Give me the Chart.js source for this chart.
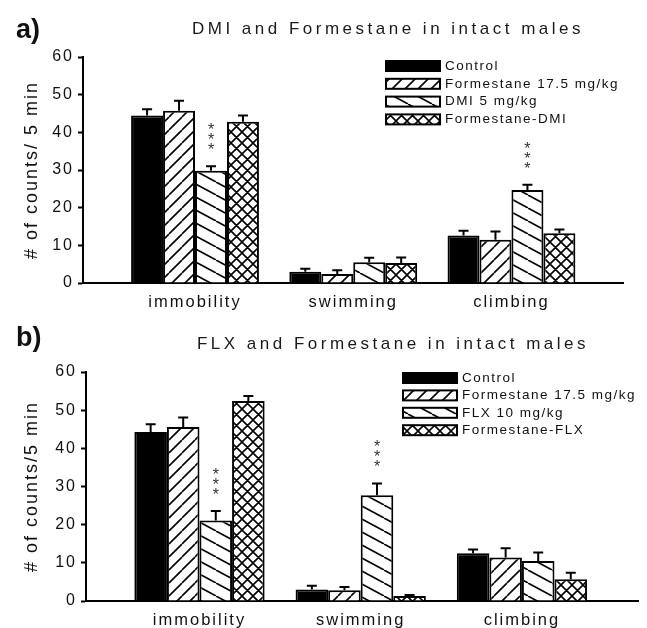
<!DOCTYPE html>
<html>
<head>
<meta charset="utf-8">
<script src="https://cdn.jsdelivr.net/npm/chart.js@4.4.0/dist/chart.umd.min.js"></script>
<style>
  body { margin: 0; background: #fff; width: 647px; height: 628px; overflow: hidden; position: relative; font-family: "Liberation Sans", Arial, sans-serif; }
  canvas { position: absolute; left: 0; }
  #chartA { top: 0; }
  #chartB { top: 310px; }
  .tag { position: absolute; left: 16px; font-weight: bold; font-size: 27px; line-height: 30px; color: #111; }
  .ttl { position: absolute; font-size: 17px; line-height: 20px; letter-spacing: 3.5px; color: #1a1a1a; white-space: nowrap; transform: translateX(-50%); }
</style>
</head>
<body>
<canvas id="chartA" width="647" height="320"></canvas>
<canvas id="chartB" width="647" height="318"></canvas>
<div class="tag" style="top:14px">a)</div>
<div class="ttl" style="left:388px; top:19px">DMI and Formestane in intact males</div>
<div class="tag" style="top:322px">b)</div>
<div class="ttl" style="left:393px; top:334px">FLX and Formestane in intact males</div>

<script>
const categories = ['immobility', 'swimming', 'climbing'];
const yTickValues = [0, 10, 20, 30, 40, 50, 60];

// a) DMI and Formestane
const seriesA = ['Control', 'Formestane 17.5 mg/kg', 'DMI 5 mg/kg', 'Formestane-DMI'];
const controlA = [44.5, 3.0, 12.6];
const controlErrA = [1.6, 0.8, 1.3];
const formestaneA = [45.7, 2.4, 11.5];
const formestaneErrA = [2.7, 1.0, 2.2];
const dmiA = [29.8, 5.5, 24.7];
const dmiErrA = [1.2, 1.2, 1.4];
const formDmiA = [42.8, 5.3, 13.2];
const formDmiErrA = [1.7, 1.5, 1.0];
const dmiStarsA = [true, false, true];

// b) FLX and Formestane
const seriesB = ['Control', 'Formestane 17.5 mg/kg', 'FLX 10 mg/kg', 'Formestane-FLX'];
const controlB = [44.3, 3.0, 12.5];
const controlErrB = [2.0, 1.0, 1.0];
const formestaneB = [45.6, 2.8, 11.4];
const formestaneErrB = [2.5, 0.9, 2.4];
const flxB = [21.1, 27.7, 10.5];
const flxErrB = [2.5, 3.1, 2.2];
const formFlxB = [52.4, 1.3, 5.7];
const formFlxErrB = [1.3, 0.3, 1.7];
const flxStarsB = [true, true, false];

const FONT = '"Liberation Sans", Arial, sans-serif';
Chart.defaults.font.family = FONT;
Chart.defaults.color = '#111';

// hatch fills, made on the chart's own context
const makeHatch = (ctx, w, h, dirs) => {
  const c = document.createElement('canvas');
  c.width = w; c.height = h;
  const g = c.getContext('2d');
  g.fillStyle = '#fff';
  g.fillRect(0, 0, w, h);
  g.strokeStyle = '#000';
  g.lineWidth = 1.6;
  g.beginPath();
  for (const dx of [-w, 0, w]) {
    if (dirs.includes('/')) { g.moveTo(dx, h); g.lineTo(dx + w, 0); }
    if (dirs.includes('\\')) { g.moveTo(dx, 0); g.lineTo(dx + w, h); }
  }
  g.stroke();
  return ctx.createPattern(c, 'repeat');
};

// the original figure uses widely spaced letters
const spacing = {
  id: 'spacing',
  beforeLayout(chart) { chart.ctx.letterSpacing = '2px'; },
  beforeDraw(chart) { chart.ctx.letterSpacing = '2px'; }
};

const errorBars = {
  id: 'errorBars',
  afterDatasetsDraw(chart) {
    const { ctx } = chart;
    const y = chart.scales.y;
    ctx.save();
    ctx.letterSpacing = '0px';
    ctx.strokeStyle = '#000';
    ctx.lineWidth = 2;
    chart.data.datasets.forEach((ds, i) => {
      chart.getDatasetMeta(i).data.forEach((bar, j) => {
        const top = y.getPixelForValue(ds.data[j].y + ds.err[j]);
        ctx.beginPath();
        ctx.moveTo(bar.x, bar.y);
        ctx.lineTo(bar.x, top);
        ctx.moveTo(bar.x - 5, top);
        ctx.lineTo(bar.x + 5, top);
        ctx.stroke();
        if (ds.stars && ds.stars[j]) {
          ctx.fillStyle = '#333';
          ctx.font = '16px ' + FONT;
          ctx.textAlign = 'center';
          ctx.textBaseline = 'alphabetic';
          for (let k = 0; k < 3; k++) ctx.fillText('*', bar.x, top - 20 - k * 10 + 9);
        }
      });
    });
    ctx.restore();
  }
};

const boxLegend = {
  id: 'boxLegend',
  afterDraw(chart, args, opts) {
    const { ctx } = chart;
    ctx.save();
    ctx.letterSpacing = '1.5px';
    ctx.font = '13.5px ' + FONT;
    ctx.textBaseline = 'middle';
    ctx.textAlign = 'left';
    chart.data.datasets.forEach((ds, i) => {
      const x = opts.x;
      const yc = opts.y + i * opts.step;
      ctx.fillStyle = ds.backgroundColor;
      ctx.fillRect(x, yc - 5, 54, 10);
      ctx.strokeStyle = '#000';
      ctx.lineWidth = 2;
      ctx.strokeRect(x, yc - 5, 54, 10);
      ctx.fillStyle = '#111';
      ctx.fillText(ds.label, x + 59, yc);
    });
    ctx.restore();
  }
};

function drawPanel(id, p) {
  const canvas = document.getElementById(id);
  const ctx = canvas.getContext('2d');
  const fills = [
    '#000',
    makeHatch(ctx, 13, 13, '/'),
    makeHatch(ctx, 24, 13, '\\'),
    makeHatch(ctx, 11, 11, '/\\')
  ];
  const datasets = p.series.map((name, i) => ({
    label: name,
    data: p.values[i].map((v, j) => ({ x: j, y: v })),
    err: p.errors[i],
    stars: p.stars[i],
    backgroundColor: fills[i],
    borderColor: '#000',
    borderWidth: 2,
    categoryPercentage: 0.808,
    barPercentage: 1
  }));

  new Chart(canvas, {
    type: 'bar',
    data: { datasets },
    plugins: [spacing, errorBars, boxLegend],
    options: {
      responsive: false,
      animation: false,
      layout: { padding: { left: 0, right: p.padRight, top: p.padTop, bottom: 0 } },
      plugins: {
        legend: { display: false },
        tooltip: { enabled: false },
        boxLegend: p.legend
      },
      scales: {
        x: {
          type: 'linear',
          min: p.xMin,
          max: p.xMax,
          offset: false,
          grid: { display: false, offset: false },
          border: { display: true, color: '#000', width: 2 },
          afterBuildTicks: (s) => { s.ticks = categories.map((c, i) => ({ value: i })); },
          ticks: {
            padding: 2,
            font: { size: 16.5 },
            callback: (v) => categories[v]
          },
          afterFit: (s) => { s.height = p.xHeight; }
        },
        y: {
          min: 0,
          max: 60,
          afterBuildTicks: (s) => { s.ticks = yTickValues.map(v => ({ value: v })); },
          grid: { drawOnChartArea: false, drawTicks: true, tickLength: 5, tickColor: '#000', tickWidth: 2 },
          border: { display: true, color: '#000', width: 2 },
          ticks: { padding: 4, font: { size: 16 } },
          title: {
            display: true,
            text: p.yTitle,
            font: { size: 18 },
            padding: { top: 21, bottom: 0 }
          },
          afterFit: (s) => { s.width = p.yWidth; }
        }
      }
    }
  });
}

drawPanel('chartA', {
  series: seriesA,
  values: [controlA, formestaneA, dmiA, formDmiA],
  errors: [controlErrA, formestaneErrA, dmiErrA, formDmiErrA],
  stars: [null, null, dmiStarsA, null],
  yTitle: '# of counts/ 5 min',
  xMin: -0.708, xMax: 2.705,
  padTop: 57, padRight: 24, yWidth: 83, xHeight: 37,
  legend: { x: 386, y: 66, step: 17.8 }
});

drawPanel('chartB', {
  series: seriesB,
  values: [controlB, formestaneB, flxB, formFlxB],
  errors: [controlErrB, formestaneErrB, flxErrB, formFlxErrB],
  stars: [null, null, flxStarsB, null],
  yTitle: '# of counts/5 min',
  xMin: -0.704, xMax: 2.72,
  padTop: 62, padRight: 9, yWidth: 86, xHeight: 27,
  legend: { x: 403, y: 68, step: 17.4 }
});
</script>
</body>
</html>
